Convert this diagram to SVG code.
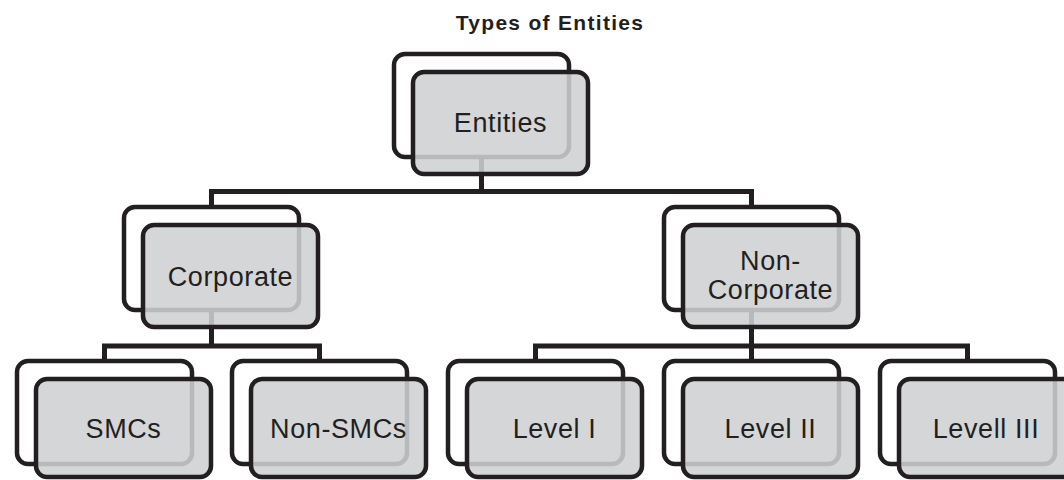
<svg xmlns="http://www.w3.org/2000/svg" width="1064" height="480" viewBox="0 0 1064 480">
<style>
.bk{fill:#ffffff;stroke:#231f20;stroke-width:4.5}
.fr{fill:#cfd0d2;fill-opacity:0.87;stroke:#231f20;stroke-width:4.5}
.lbl{font-family:"Liberation Sans",Arial,sans-serif;font-size:27px;fill:#231f20;text-anchor:middle;letter-spacing:0.6px}
.ttl{font-family:"Liberation Sans",Arial,sans-serif;font-size:21px;font-weight:bold;fill:#231f20;text-anchor:middle;letter-spacing:1.3px}
.cn{fill:none;stroke:#231f20;stroke-width:5;stroke-linejoin:miter}
</style>
<rect width="1064" height="480" fill="#ffffff"/>
<text class="ttl" x="550" y="30">Types of Entities</text>
<g id="connectors">
<path class="cn" d="M481.5,157 V191.5 M211.5,207 V191.5 H751.5 V207"/>
<path class="cn" d="M211.5,310 V346 M104.5,361 V346 H319.5 V361"/>
<path class="cn" d="M751.5,310 V361 M535.5,361 V346 H967.5 V361"/>
</g>
<g id="entities">
<rect class="bk" x="394" y="54" width="175" height="103" rx="11"/>
<rect class="fr" x="413" y="72" width="175" height="102" rx="11"/>
<text class="lbl" x="500.5" y="132">Entities</text>
</g>
<g id="corporate">
<rect class="bk" x="124" y="207" width="175" height="103" rx="11"/>
<rect class="fr" x="143" y="225" width="175" height="102" rx="11"/>
<text class="lbl" x="230.5" y="286">Corporate</text>
</g>
<g id="non-corporate">
<rect class="bk" x="664" y="207" width="175" height="103" rx="11"/>
<rect class="fr" x="683" y="225" width="175" height="102" rx="11"/>
<text class="lbl" x="770.5" y="270">Non-</text>
<text class="lbl" x="770.5" y="299">Corporate</text>
</g>
<g id="smcs">
<rect class="bk" x="17" y="361" width="175" height="103" rx="11"/>
<rect class="fr" x="36" y="379" width="175" height="98" rx="11"/>
<text class="lbl" x="123.5" y="438">SMCs</text>
</g>
<g id="non-smcs">
<rect class="bk" x="232" y="361" width="175" height="103" rx="11"/>
<rect class="fr" x="251" y="379" width="175" height="98" rx="11"/>
<text class="lbl" x="338.5" y="438">Non-SMCs</text>
</g>
<g id="level-1">
<rect class="bk" x="448" y="361" width="175" height="103" rx="11"/>
<rect class="fr" x="467" y="379" width="175" height="98" rx="11"/>
<text class="lbl" x="554.5" y="438">Level I</text>
</g>
<g id="level-2">
<rect class="bk" x="664" y="361" width="175" height="103" rx="11"/>
<rect class="fr" x="683" y="379" width="175" height="98" rx="11"/>
<text class="lbl" x="770.5" y="438">Level II</text>
</g>
<g id="level-3">
<rect class="bk" x="880" y="361" width="175" height="103" rx="11"/>
<rect class="fr" x="899" y="379" width="175" height="98" rx="11"/>
<text class="lbl" x="986" y="438">Levell III</text>
</g>
</svg>
